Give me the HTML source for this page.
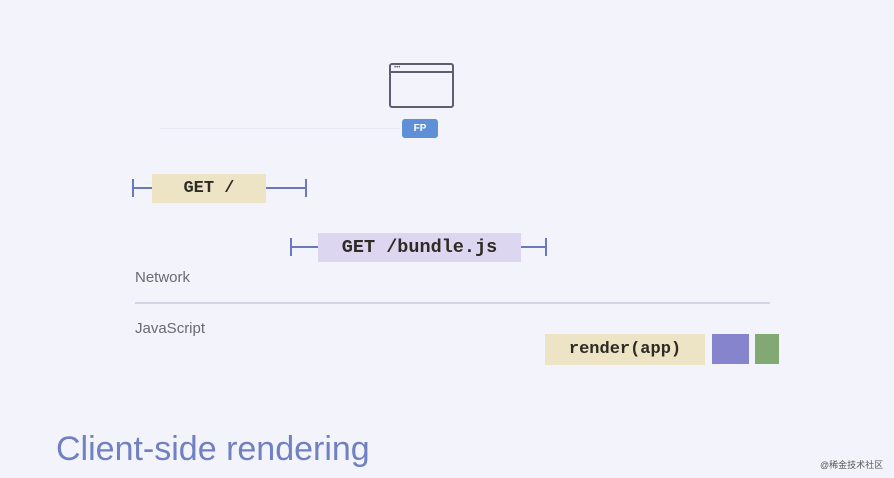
<!DOCTYPE html>
<html><head><style>
body{margin:0;width:894px;height:478px;background:#f3f4fb;position:relative;overflow:hidden;font-family:"Liberation Sans",sans-serif}
.a{position:absolute}
.mono{font-family:"Liberation Mono",monospace;font-weight:bold;color:#2e2a24;display:flex;align-items:center;justify-content:center}
</style></head><body>
<div class="a" style="left:160px;top:128px;width:240px;height:1px;background:#e6e7f2"></div>
<div class="a" style="left:389px;top:63px;width:61px;height:41px;border:2px solid #5f5e70;border-radius:3px"></div>
<div class="a" style="left:390px;top:71px;width:62px;height:2px;background:#5f5e70"></div>
<div class="a" style="left:394px;top:66px;font-size:6px;color:#5f5e70;line-height:4px">•••</div>
<div class="a" style="left:402px;top:119px;width:36px;height:19px;background:#5f8fd6;border-radius:3px;color:#fff;font-size:10px;font-weight:bold;display:flex;align-items:center;justify-content:center">FP</div>

<div class="a" style="left:132px;top:187px;width:175px;height:2px;background:#6a78c0"></div>
<div class="a" style="left:132px;top:179px;width:2px;height:18px;background:#6a78c0"></div>
<div class="a" style="left:305px;top:179px;width:2px;height:18px;background:#6a78c0"></div>
<div class="a mono" style="left:152px;top:174px;width:114px;height:29px;background:#ece4c4;font-size:17px">GET /</div>

<div class="a" style="left:290px;top:246px;width:257px;height:2px;background:#6a78c0"></div>
<div class="a" style="left:290px;top:238px;width:2px;height:18px;background:#6a78c0"></div>
<div class="a" style="left:545px;top:238px;width:2px;height:18px;background:#6a78c0"></div>
<div class="a mono" style="left:318px;top:233px;width:203px;height:29px;background:#ddd6f0;font-size:18.5px">GET /bundle.js</div>

<div class="a" style="left:135px;top:269px;font-size:15px;color:#6a6a72">Network</div>
<div class="a" style="left:135px;top:302px;width:635px;height:2px;background:#d4d4e6"></div>
<div class="a" style="left:135px;top:320px;font-size:15px;color:#6a6a72">JavaScript</div>

<div class="a mono" style="left:545px;top:334px;width:160px;height:31px;background:#ece4c4;font-size:17px">render(app)</div>
<div class="a" style="left:712px;top:334px;width:37px;height:30px;background:#8584cc"></div>
<div class="a" style="left:755px;top:334px;width:24px;height:30px;background:#82a874"></div>

<div class="a" style="left:56px;top:430px;font-size:34px;color:#7080c0">Client-side rendering</div>
<div class="a" style="left:820px;top:458px;font-size:9px;color:#555;font-family:'Liberation Sans','Noto Sans CJK SC',sans-serif">@稀金技术社区</div>
</body></html>
